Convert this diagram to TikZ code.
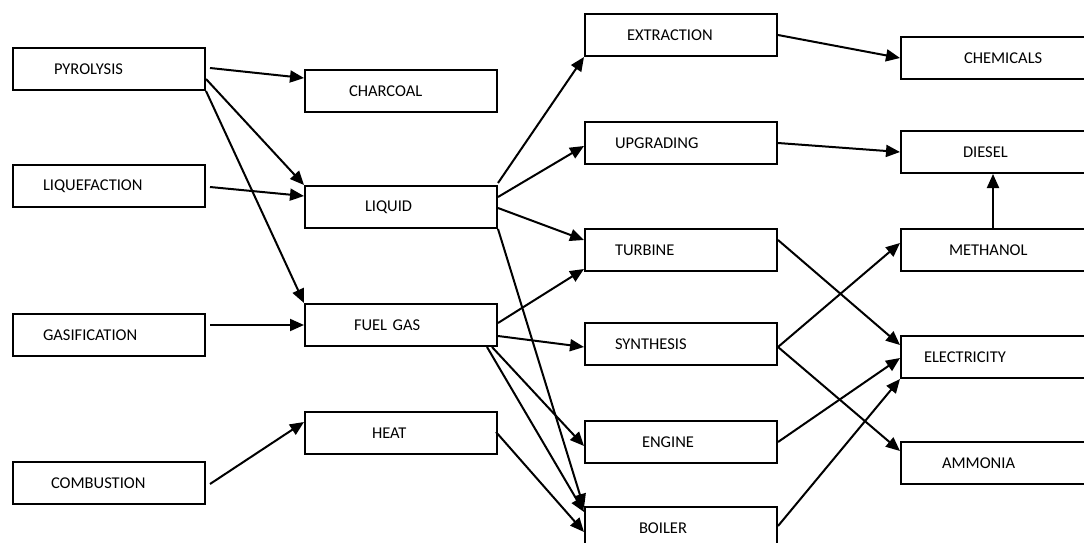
\documentclass[tikz,border=0pt]{standalone}
\usepackage{fontspec}
\setmainfont{Carlito}
\usetikzlibrary{arrows.meta,calc}

\begin{document}
\begin{tikzpicture}[x=1pt,y=-1pt,
    box/.style={draw,line width=2pt,anchor=north west,minimum width=192pt,minimum height=42pt,
      text width=192pt,inner xsep=0pt,align=left,font=\fontsize{16.5}{19}\selectfont},
    arr/.style={line width=2pt,-{Triangle[length=14pt,width=12pt]}}]
  \useasboundingbox (0,0) rectangle (1084,543);

  \node[box](pyro) at (12,47){\hspace*{41pt}PYROLYSIS};
  \node[box](liquef) at (12,164){\hspace*{30pt}LIQUEFACTION};
  \node[box](gasif) at (12,313){\hspace*{30pt}GASIFICATION};
  \node[box](combus) at (12,461){\hspace*{38pt}COMBUSTION};

  \node[box](charcoal) at (304,69){\hspace*{44pt}CHARCOAL};
  \node[box](liquid) at (304,185){\hspace*{60pt}LIQUID};
  \node[box](fuelgas) at (304,303){\hspace*{49pt}FUEL GAS};
  \node[box](heat) at (304,411){\hspace*{67pt}HEAT};

  \node[box](extract) at (584,13){\hspace*{42pt}EXTRACTION};
  \node[box](upgrade) at (584,121){\hspace*{30pt}UPGRADING};
  \node[box](turbine) at (584,228){\hspace*{30pt}TURBINE};
  \node[box](synth) at (584,322){\hspace*{30pt}SYNTHESIS};
  \node[box](engine) at (584,420){\hspace*{57pt}ENGINE};
  \node[box](boiler) at (584,506){\hspace*{54pt}BOILER};

  \node[box](chem) at (900,36){\hspace*{63pt}CHEMICALS};
  \node[box](diesel) at (900,130){\hspace*{62pt}DIESEL};
  \node[box](methanol) at (900,228){\hspace*{48pt}METHANOL};
  \node[box](elec) at (900,335){\hspace*{23pt}ELECTRICITY};
  \node[box](ammonia) at (900,441){\hspace*{41pt}AMMONIA};

  \draw[arr] ($(pyro.north east)+(4,21)$) -- ($(charcoal.north west)+(0,9)$);
  \draw[arr] ($(pyro.north east)+(0,32)$) -- (liquid.north west);
  \draw[arr] (pyro.south east) -- (fuelgas.north west);
  \draw[arr] ($(liquef.east)+(4,1)$) -- ($(liquid.west)+(0,-11)$);
  \draw[arr] ($(gasif.east)+(4,-10)$) -- (fuelgas.west);
  \draw[arr] ($(combus.east)+(4,1)$) -- ($(heat.north west)+(0,11)$);

  \draw[arr] ($(liquid.north east)+(0,-2)$) -- (extract.south west);
  \draw[arr] ($(liquid.north east)+(0,12)$) -- ($(upgrade.west)+(0,3)$);
  \draw[arr] ($(liquid.east)+(0,1)$) -- ($(turbine.west)+(0,-10)$);
  \draw[arr] (liquid.south east) -- ($(boiler.north west)+(0,2)$);
  \draw[arr] ($(fuelgas.east)+(0,-2)$) -- ($(turbine.south west)+(0,-3)$);
  \draw[arr] ($(fuelgas.east)+(0,11)$) -- ($(synth.west)+(0,3)$);
  \draw[arr] ($(fuelgas.south east)+(-6,0)$) -- ($(engine.west)+(0,4)$);
  \draw[arr] ($(fuelgas.south east)+(-11,0)$) -- ($(boiler.north west)+(0,6)$);
  \draw[arr] ($(heat.east)+(-2,-1)$) -- ($(boiler.north west)+(0,26)$);

  \draw[arr] (extract.east) -- (chem.west);
  \draw[arr] (upgrade.east) -- (diesel.west);
  \draw[arr] ($(turbine.north east)+(0,12)$) -- ($(elec.north west)+(0,10)$);
  \draw[arr] ($(synth.east)+(0,3)$) -- ($(methanol.west)+(0,-7)$);
  \draw[arr] ($(synth.east)+(0,3)$) -- ($(ammonia.north west)+(0,10)$);
  \draw[arr] (engine.east) -- ($(elec.west)+(0,1)$);
  \draw[arr] ($(boiler.north east)+(0,20)$) -- (elec.south west);
  \draw[arr] ($(methanol.north)+(-4,0)$) -- ($(diesel.south)+(-4,0)$);
\end{tikzpicture}
\end{document}
